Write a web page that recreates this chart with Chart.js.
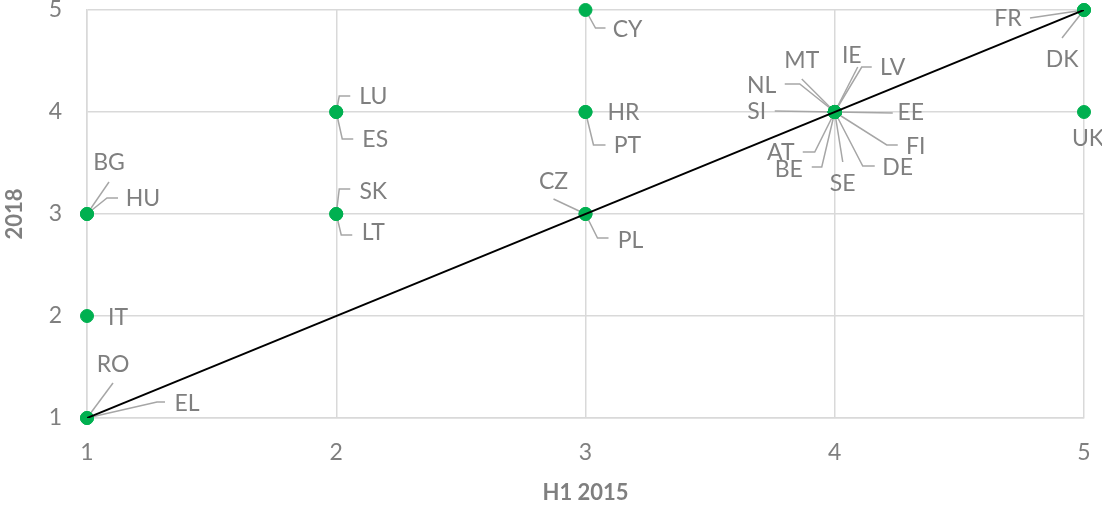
<!DOCTYPE html>
<html>
<head>
<meta charset="utf-8">
<script src="https://cdn.jsdelivr.net/npm/chart.js@4.4.1/dist/chart.umd.min.js"></script>
<style>
  html, body { margin: 0; padding: 0; background: #fff; }
  #wrap { width: 1102px; height: 509px; position: relative; }
</style>
</head>
<body>
<div id="wrap"><canvas id="scatterChart"></canvas></div>
<script>
// Data
const countries = ['MT', 'IE', 'LV', 'NL', 'SI', 'EE', 'FI', 'DE', 'SE', 'BE', 'AT',
  'FR', 'DK', 'UK', 'BG', 'HU', 'IT', 'RO', 'EL', 'LU', 'ES', 'SK', 'LT',
  'CY', 'HR', 'PT', 'CZ', 'PL'];
const scoreH1_2015 = [4, 4, 4, 4, 4, 4, 4, 4, 4, 4, 4,
  5, 5, 5, 1, 1, 1, 1, 1, 2, 2, 2, 2,
  3, 3, 3, 3, 3];
const score2018 = [4, 4, 4, 4, 4, 4, 4, 4, 4, 4, 4,
  5, 5, 4, 3, 3, 2, 1, 1, 4, 4, 3, 3,
  5, 4, 4, 3, 3];
const diagonalX = [1, 5];
const diagonalY = [1, 5];

// Label placement: text offset from the point and leader line bends (pixels)
const labelLayout = {
  MT: { text: [-33, -51], line: [[-33, -33]] },
  IE: { text: [17, -56], line: [[23, -45]] },
  LV: { text: [58, -44], line: [[27, -45], [37, -45]] },
  NL: { text: [-73, -26], line: [[-35, -28], [-50, -28]] },
  SI: { text: [-78, 0], line: [[-60, -1]] },
  EE: { text: [76, 1], line: [[58, 1]] },
  FI: { text: [81, 35], line: [[52, 33], [63, 33]] },
  DE: { text: [63, 56], line: [[28, 54], [40, 54]] },
  SE: { text: [8, 72], line: [[8, 50]] },
  BE: { text: [-46, 58], line: [[-13, 55], [-23, 55]] },
  AT: { text: [-54, 41], line: [[-20, 40], [-32, 40]] },
  FR: { text: [-76, 9], line: [[-54, 8]] },
  DK: { text: [-22, 50], line: [[-22, 28]] },
  UK: { text: [4, 27], line: [] },
  BG: { text: [22, -51], line: [[22, -32]] },
  HU: { text: [56, -15], line: [[20, -16], [31, -16]] },
  IT: { text: [31, 2], line: [] },
  RO: { text: [26, -53], line: [[26, -35]] },
  EL: { text: [100, -14], line: [[70, -16], [78, -16]] },
  LU: { text: [37, -15], line: [[3, -16], [14, -16]] },
  ES: { text: [39, 28], line: [[6, 27], [17, 27]] },
  SK: { text: [37, -22], line: [[3, -25], [14, -25]] },
  LT: { text: [37, 19], line: [[5, 21], [16, 21]] },
  CY: { text: [42, 20], line: [[10, 18], [20, 18]] },
  HR: { text: [38, 1], line: [] },
  PT: { text: [42, 34], line: [[8, 33], [20, 33]] },
  CZ: { text: [-32, -32], line: [[-32, -15]] },
  PL: { text: [45, 27], line: [[12, 24], [23, 24]] }
};

const textGray = '#7f7f7f';
const gridGray = '#d9d9d9';

// Country labels with leader lines
const countryLabels = {
  id: 'countryLabels',
  beforeDatasetsDraw(chart) {
    const ctx = chart.ctx;
    const meta = chart.getDatasetMeta(1);
    ctx.save();
    ctx.strokeStyle = '#a6a6a6';
    ctx.lineWidth = 1.5;
    meta.data.forEach(function(pt, i) {
      const layout = labelLayout[countries[i]];
      if (!layout || layout.line.length === 0) return;
      ctx.beginPath();
      ctx.moveTo(pt.x, pt.y);
      layout.line.forEach(function(p) {
        ctx.lineTo(pt.x + p[0], pt.y + p[1]);
      });
      ctx.stroke();
    });
    ctx.restore();
  },
  afterDatasetsDraw(chart) {
    const ctx = chart.ctx;
    const meta = chart.getDatasetMeta(1);
    ctx.save();
    ctx.fillStyle = textGray;
    ctx.font = '23px Lato';
    ctx.textAlign = 'center';
    ctx.textBaseline = 'middle';
    meta.data.forEach(function(pt, i) {
      const layout = labelLayout[countries[i]];
      if (!layout) return;
      ctx.fillText(countries[i], pt.x + layout.text[0], pt.y + layout.text[1]);
    });
    ctx.restore();
  }
};

const points = scoreH1_2015.map(function(x, i) {
  return { x: x, y: score2018[i] };
});
const diagonal = diagonalX.map(function(x, i) {
  return { x: x, y: diagonalY[i] };
});

const ctx = document.getElementById('scatterChart').getContext('2d');
new Chart(ctx, {
  type: 'scatter',
  data: {
    datasets: [{
      type: 'line',
      data: diagonal,
      borderColor: '#000000',
      borderWidth: 2,
      pointRadius: 0,
      fill: false,
      order: 0
    }, {
      data: points,
      backgroundColor: '#00b050',
      borderColor: '#00b050',
      borderWidth: 1,
      pointRadius: 6.5,
      clip: false,
      order: 1
    }]
  },
  options: {
    responsive: true,
    maintainAspectRatio: false,
    animation: false,
    layout: {
      padding: { top: 10, right: 18, left: 0, bottom: 0 }
    },
    plugins: {
      legend: { display: false },
      tooltip: { enabled: false }
    },
    scales: {
      x: {
        type: 'linear',
        min: 1,
        max: 5,
        ticks: {
          stepSize: 1,
          color: textGray,
          font: { family: 'Lato', size: 23 },
          padding: 21
        },
        grid: { color: gridGray, lineWidth: 1.5, drawTicks: false },
        border: { color: gridGray, width: 1.5 },
        title: {
          display: true,
          text: 'H1 2015',
          color: textGray,
          font: { family: 'Lato', size: 22, weight: 'bold' },
          padding: { top: 0, bottom: 3 }
        },
        afterFit: function(scale) {
          scale.height = 91;
          scale.paddingLeft = 0;
          scale.paddingRight = 0;
        }
      },
      y: {
        type: 'linear',
        min: 1,
        max: 5,
        ticks: {
          stepSize: 1,
          color: textGray,
          font: { family: 'Lato', size: 23 },
          padding: 25
        },
        grid: { color: gridGray, lineWidth: 1.5, drawTicks: false },
        border: { color: gridGray, width: 1.5 },
        title: {
          display: true,
          text: '2018',
          color: textGray,
          font: { family: 'Lato', size: 22, weight: 'bold' },
          padding: { top: 2, bottom: 0 }
        },
        afterFit: function(scale) {
          scale.width = 87;
          scale.paddingTop = 0;
          scale.paddingBottom = 0;
        }
      }
    }
  },
  plugins: [countryLabels]
});
</script>
</body>
</html>
